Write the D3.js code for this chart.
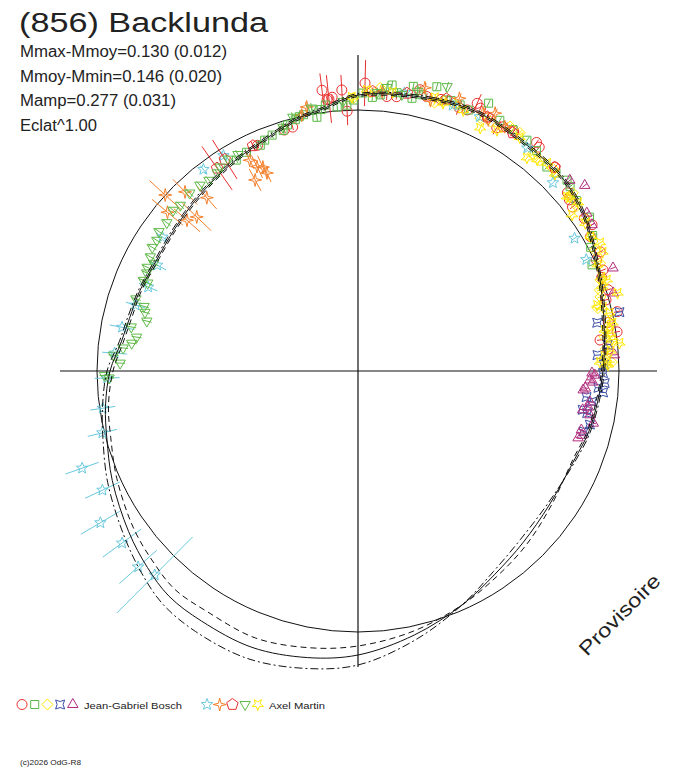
<!DOCTYPE html>
<html>
<head>
<meta charset="utf-8">
<script src="https://cdn.jsdelivr.net/npm/d3@7"></script>
<style>
body { margin: 0; background: #fff; }
text { font-family: "Liberation Sans", Arial, sans-serif; fill: #222; }
</style>
</head>
<body>
<svg id="chart" width="688" height="768"></svg>
<script>
// Fitted light curve: phase (deg, clockwise from top) and relative magnitude
const fitPhase = [0, 15, 25, 37, 47, 55, 66, 77, 90, 104, 112, 125, 136, 146, 156, 168, 180, 190, 201, 212,
    220, 227, 235, 246, 255, 262, 270, 277, 283, 290, 298, 308, 316, 324, 331, 337, 343, 347, 352];
const fitMid = [0.060, 0.084, 0.096, 0.084, 0.080, 0.056, 0.004, -0.036, -0.064, -0.088, -0.108, -0.110, -0.092,
    -0.064, -0.020, 0.036, 0.092, 0.120, 0.140, 0.136, 0.132, 0.108, 0.076, 0.032, -0.004, -0.024, -0.052,
    -0.090, -0.106, -0.114, -0.124, -0.116, -0.102, -0.084, -0.066, -0.050, -0.024, -0.004, 0.012];
const fitLow = [0.054, 0.078, 0.090, 0.078, 0.074, 0.050, -0.002, -0.042, -0.070, -0.094, -0.114, -0.102, -0.076,
    -0.052, -0.020, 0.020, 0.056, 0.080, 0.100, 0.092, 0.096, 0.076, 0.052, 0.012, -0.020, -0.036, -0.064,
    -0.098, -0.114, -0.120, -0.130, -0.122, -0.108, -0.090, -0.072, -0.056, -0.030, -0.010, 0.006];
const fitHigh = [0.066, 0.090, 0.102, 0.090, 0.086, 0.062, 0.010, -0.030, -0.058, -0.082, -0.102, -0.118, -0.108,
    -0.076, -0.020, 0.056, 0.132, 0.164, 0.188, 0.184, 0.172, 0.140, 0.100, 0.052, 0.012, -0.012, -0.040,
    -0.082, -0.098, -0.108, -0.118, -0.110, -0.096, -0.078, -0.060, -0.044, -0.018, 0.002, 0.018];

// Observations: [phase deg, relative mag, error]
const bosch1 = [[336,-0.056,0.012],[343,-0.036,0.014],[345,-0.034,0.012],[352.7,0.088,0.068],[353.5,0.048,0.014],
    [353.9,0.050,0.096],[354.6,0.056,0.012],[356.7,0.082,0.060],[357.6,-0.004,0.056],[1.4,0.108,0.092],[6,0.060,0.014],
    [8,0.064,0.012],[12.4,0.108,0.014],[14,0.088,0.012],[17,0.092,0.012],[21,0.084,0.030],[22.7,0.088,0.014],
    [24,0.128,0.040],[25,0.116,0.014],[29.7,0.076,0.030],[30.7,0.092,0.012],[33,0.100,0.014],[38,0.116,0.014],
    [39,0.108,0.012],[44,0.090,0.012],[49.6,0.056,0.014],[51,0.044,0.012],[52.6,0.036,0.012],[56,0.048,0.012],
    [58,0.060,0.014],[60,0.030,0.012],[63.8,0.036,0.012],[65,0.008,0.012],[67.6,0.016,0.012],[69,0.000,0.012],
    [72,0.008,0.014],[74,-0.012,0.012],[77.1,0.020,0.014],[79,-0.024,0.012],[81.4,0.004,0.012],[82.7,-0.068,0.012],
    [85,-0.040,0.012]];
const bosch2 = [[330,-0.070,0.014],[333,-0.062,0.014],[336.6,-0.060,0.014],[338,-0.048,0.016],[340,-0.040,0.014],
    [342.7,-0.036,0.014],[344,-0.020,0.014],[346,-0.008,0.016],[347,0.000,0.016],[348,0.004,0.014],[350,0.016,0.014],
    [350.8,-0.016,0.016],[352,0.012,0.014],[353,0.028,0.014],[355.5,0.016,0.014],[357.6,0.020,0.014],[359,0.040,0.014],
    [1,0.068,0.016],[3,0.052,0.014],[4.6,0.064,0.014],[6.8,0.108,0.016],[8,0.080,0.016],[11,0.116,0.014],
    [11.2,0.068,0.014],[13,0.090,0.014],[15.5,0.136,0.016],[18,0.096,0.014],[19,0.100,0.014],[21,0.096,0.014],
    [23,0.090,0.014],[26,0.148,0.016],[29.5,0.108,0.014],[32.7,0.104,0.014],[36.2,0.100,0.016],[39,0.090,0.014],
    [42.8,0.068,0.014],[45,0.076,0.016],[47.6,0.088,0.016],[49,0.080,0.014],[52,0.064,0.014],[56.4,0.068,0.016],
    [60,0.040,0.014],[62,0.010,0.014],[65.6,-0.016,0.014]];
const bosch3 = [[359,0.048,0.012],[2.5,0.072,0.012],[4.5,0.092,0.012],[15.9,0.072,0.012],[17.6,0.088,0.012],
    [20,0.090,0.012],[25.8,0.080,0.012],[28,0.086,0.012],[31.9,0.108,0.012],[34.2,0.108,0.012],[38.8,0.072,0.012],
    [40.8,0.068,0.012],[44,0.080,0.012],[50.3,0.072,0.012],[50.6,0.052,0.012],[53,0.052,0.012],[56,0.050,0.012],
    [60,0.030,0.012],[63,0.020,0.012],[66,0.016,0.012],[69.4,-0.008,0.012],[71.5,-0.024,0.012],[73,-0.030,0.012],
    [75.3,-0.052,0.012],[78.6,-0.016,0.012],[80,-0.030,0.012],[82.1,-0.048,0.012],[83.4,-0.036,0.012],
    [85,-0.050,0.012],[87.4,-0.064,0.012],[88,-0.028,0.012]];
const bosch4 = [[77.3,0.028,0.012],[78.6,-0.068,0.012],[84,-0.040,0.012],[86.2,-0.084,0.012],[88.5,-0.060,0.012],
    [90.5,-0.064,0.012],[92.8,-0.056,0.012],[94,-0.080,0.012],[95,-0.060,0.012],[96.5,-0.124,0.012],[97.5,-0.100,0.012],
    [99.8,-0.132,0.012],[100.4,-0.112,0.012],[103,-0.092,0.012],[105,-0.110,0.012]];
const bosch5 = [[48,0.096,0.012],[50.7,0.128,0.012],[55.4,0.068,0.012],[58,0.060,0.012],[68,0.056,0.012],
    [73,0.024,0.012],[86.4,-0.016,0.012],[90.5,-0.108,0.012],[91,-0.096,0.012],[92.2,-0.116,0.012],[92.7,-0.104,0.012],
    [94.3,-0.132,0.012],[94.8,-0.140,0.012],[97.6,-0.108,0.012],[98.9,-0.112,0.012],[99.8,-0.132,0.012],
    [100.7,-0.100,0.012],[102.5,-0.080,0.012],[104.8,-0.120,0.012],[106,-0.112,0.012],[106.9,-0.124,0.012]];
const martin1 = [[9.5,0.084,0.014],[19.6,0.084,0.014],[25.6,0.084,0.014],[37.2,0.076,0.014],[46,0.040,0.014],
    [58.5,-0.028,0.014],[64,-0.028,0.014],[328,-0.028,0.020],[322.5,-0.028,0.020],[304.4,-0.096,0.030],
    [297.8,-0.136,0.040],[291.8,-0.140,0.040],[286.5,-0.116,0.040],[280.5,-0.084,0.050],[274.2,-0.068,0.050],
    [268.4,-0.040,0.050],[261.7,-0.012,0.050],[256.4,0.008,0.060],[250.6,0.126,0.070],[245,0.084,0.076],
    [239.5,0.152,0.090],[233.9,0.124,0.095],[228.3,0.134,0.100],[224.9,0.108,0.215]];
const martin2 = [[312.4,0.000,0.085],[309.8,-0.052,0.080],[316,-0.048,0.070],[313.7,-0.152,0.080],[318.9,-0.124,0.060],
    [311.4,-0.132,0.070],[333.7,-0.132,0.050],[335,-0.144,0.050],[331.7,-0.176,0.050],[332.8,-0.096,0.040],
    [335.3,-0.172,0.040],[347.6,0.004,0.020],[349,0.032,0.020],[5,0.080,0.020],[13.3,0.120,0.020],[15,0.076,0.020],
    [20.4,0.120,0.020],[25.8,0.104,0.020],[27.4,0.088,0.020],[28,0.124,0.020],[31,0.096,0.020]];
const martin3 = [[325.2,-0.056,0.106],[327.8,-0.044,0.092],[335,-0.050,0.020],[3,0.076,0.016],[10,0.084,0.016],
    [18,0.100,0.016],[27,0.096,0.016],[33,0.092,0.016],[44,0.088,0.016]];
const martin4 = [[319.6,-0.068,0.02],[322,-0.076,0.02],[324.6,-0.072,0.02],[316.6,-0.064,0.02],[313,-0.072,0.02],
    [311,-0.064,0.02],[307.8,-0.076,0.02],[305,-0.072,0.02],[303,-0.084,0.02],[301,-0.084,0.02],[298.8,-0.096,0.02],
    [297.8,-0.120,0.02],[296.2,-0.104,0.02],[294.9,-0.112,0.02],[292.9,-0.112,0.02],[292.7,-0.132,0.02],[288,-0.110,0.02],
    [286.8,-0.150,0.02],[285.4,-0.160,0.02],[283.3,-0.176,0.02],[281,-0.120,0.02],[278.7,-0.148,0.02],[277,-0.132,0.02],
    [275.6,-0.100,0.02],[273.7,-0.064,0.02],[271.9,-0.092,0.02],[269,-0.030,0.02],[268.4,-0.048,0.02],[326,-0.060,0.02],
    [328.5,-0.050,0.02],[331,-0.054,0.02],[342.9,-0.024,0.02],[345.6,0.004,0.02],[350,0.024,0.02],[356.8,0.036,0.02],
    [3.9,0.072,0.02],[5.8,0.096,0.02],[9,0.076,0.02],[12,0.100,0.02],[17.4,0.148,0.02]];
const martin5 = [[358.7,0.052,0.014],[1.8,0.080,0.014],[7.1,0.080,0.014],[15.7,0.092,0.014],[17.6,0.080,0.014],
    [22,0.080,0.014],[26.7,0.044,0.014],[30,0.068,0.014],[34.7,0.092,0.014],[38.4,0.044,0.014],[40.3,0.064,0.014],
    [42.3,0.080,0.014],[45,0.070,0.014],[50.2,0.044,0.014],[50.6,0.052,0.014],[52.6,0.064,0.014],[53.9,0.016,0.014],
    [57,0.040,0.014],[60,0.030,0.014],[62.1,0.052,0.014],[64.1,0.044,0.014],[66.1,0.004,0.014],[68.9,0.000,0.014],
    [69.9,0.016,0.014],[71,-0.010,0.014],[73.3,0.040,0.014],[74.6,-0.052,0.014],[75.4,-0.032,0.014],[77,-0.012,0.014],
    [79.3,-0.008,0.014],[80.6,-0.044,0.014],[81.5,-0.024,0.014],[83,-0.020,0.014],[83.9,0.008,0.014],
    [85.5,-0.030,0.014],[86.5,-0.056,0.014],[87.9,-0.076,0.014],[88.2,-0.048,0.014],[88.6,-0.044,0.014]];

const observers = ["Jean-Gabriel Bosch", "Axel Martin"];
const sessionData = [bosch1, bosch2, bosch3, bosch4, bosch5, martin1, martin2, martin3, martin4, martin5];
const sessionObserver = [0, 0, 0, 0, 0, 1, 1, 1, 1, 1];
const sessionShape = ["circle", "square", "diamond", "concave", "triangle", "star", "star4", "pentagon", "triangleDown", "starDown"];
const sessionColor = ["#e8302e", "#5ab946", "#ffe800", "#3b4ea5", "#b12b7d", "#68c8dc", "#f47f2a", "#e8302e", "#5fb948", "#ffe800"];

const statLines = ["Mmax-Mmoy=0.130 (0.012)", "Mmoy-Mmin=0.146 (0.020)", "Mamp=0.277 (0.031)", "Eclat^1.00"];

const svg = d3.select("#chart");
svg.append("rect").attr("width", 688).attr("height", 768).attr("fill", "#fff");

const cx = 358, cy = 371;
const rScale = d3.scaleLinear().domain([0, 0.1]).range([261, 286]);
const aScale = d3.scaleLinear().domain([0, 360]).range([0, 2 * Math.PI]);

function polar(deg, dm) {
    const a = aScale(deg), r = rScale(dm);
    return [cx + r * Math.sin(a), cy - r * Math.cos(a)];
}

// symbol paths
function polyPath(n, rad, rot) {
    const pts = d3.range(n).map(i => {
        const t = rot + i * 2 * Math.PI / n;
        return [(rad * Math.cos(t)).toFixed(2), (rad * Math.sin(t)).toFixed(2)];
    });
    return "M" + pts.join("L") + "Z";
}
function starPath(n, rOut, rIn, rot) {
    const pts = d3.range(2 * n).map(i => {
        const t = rot + i * Math.PI / n;
        const rr = i % 2 ? rIn : rOut;
        return [(rr * Math.cos(t)).toFixed(2), (rr * Math.sin(t)).toFixed(2)];
    });
    return "M" + pts.join("L") + "Z";
}
const shapes = {
    circle: "M5,0A5,5 0 1,1 -5,0A5,5 0 1,1 5,0Z",
    square: "M-4,-4H4V4H-4Z",
    diamond: polyPath(4, 5.5, -Math.PI / 2),
    concave: "M-4.5,-4.5Q0,-1.5 4.5,-4.5Q1.5,0 4.5,4.5Q0,1.5 -4.5,4.5Q-1.5,0 -4.5,-4.5Z",
    triangle: polyPath(3, 6, -Math.PI / 2),
    star: starPath(5, 6, 2.6, -Math.PI / 2),
    star4: starPath(4, 6.5, 1.8, -Math.PI / 2),
    pentagon: polyPath(5, 6, -Math.PI / 2),
    triangleDown: polyPath(3, 6, Math.PI / 2),
    starDown: starPath(5, 6, 2.6, Math.PI / 2)
};

// axes
svg.append("line").attr("x1", 60).attr("x2", 657).attr("y1", cy).attr("y2", cy)
    .attr("stroke", "#111").attr("stroke-width", 1.2);
svg.append("line").attr("x1", cx).attr("x2", cx).attr("y1", 55).attr("y2", 667)
    .attr("stroke", "#111").attr("stroke-width", 1.2);

// mean magnitude circle
svg.append("circle").attr("cx", cx).attr("cy", cy).attr("r", rScale(0))
    .attr("fill", "none").attr("stroke", "#111").attr("stroke-width", 1);

// observations
sessionData.forEach((data, s) => {
    const g = svg.append("g").attr("stroke", sessionColor[s]).attr("fill", "none").attr("stroke-width", 1);
    g.selectAll(".err")
        .data(data)
        .enter()
        .append("line")
        .attr("x1", d => polar(d[0], d[1] - d[2])[0])
        .attr("y1", d => polar(d[0], d[1] - d[2])[1])
        .attr("x2", d => polar(d[0], d[1] + d[2])[0])
        .attr("y2", d => polar(d[0], d[1] + d[2])[1]);
    g.selectAll(".pt")
        .data(data)
        .enter()
        .append("path")
        .attr("d", shapes[sessionShape[s]])
        .attr("transform", d => `translate(${polar(d[0], d[1]).map(v => v.toFixed(2))})`);
});

// fitted curves
const radial = d3.lineRadial()
    .angle(d => aScale(d[0]))
    .radius(d => rScale(d[1]))
    .curve(d3.curveCatmullRomClosed);
const curves = [[fitLow, "6,4"], [fitHigh, "8,3,2,3"], [fitMid, null]];
curves.forEach(([vals, dash]) => {
    svg.append("path")
        .attr("transform", `translate(${cx},${cy})`)
        .attr("d", radial(fitPhase.map((p, i) => [p, vals[i]])))
        .attr("fill", "none")
        .attr("stroke", "#111")
        .attr("stroke-width", 1)
        .attr("stroke-dasharray", dash);
});

// title and statistics
svg.append("text").attr("x", 19).attr("y", 32).attr("font-size", 27)
    .attr("textLength", 249).attr("lengthAdjust", "spacingAndGlyphs")
    .text("(856) Backlunda");
const statWidths = [207, 202, 156, 77];
statLines.forEach((t, i) => {
    svg.append("text").attr("x", 20).attr("y", 57 + i * 24.7).attr("font-size", 16)
        .attr("textLength", statWidths[i]).attr("lengthAdjust", "spacingAndGlyphs")
        .text(t);
});

// watermark
svg.append("text").attr("transform", "translate(587,657) rotate(-45)")
    .attr("font-size", 20).attr("textLength", 106).attr("lengthAdjust", "spacingAndGlyphs")
    .text("Provisoire");

// legend
const legendStart = [22, 207];
const legendTextX = [84, 269];
const legendTextW = [98, 56];
observers.forEach((name, o) => {
    const idx = d3.range(sessionData.length).filter(s => sessionObserver[s] === o);
    idx.forEach((s, k) => {
        svg.append("path")
            .attr("d", shapes[sessionShape[s]])
            .attr("transform", `translate(${legendStart[o] + k * 12.7},704.5)`)
            .attr("fill", "none")
            .attr("stroke", sessionColor[s]);
    });
    svg.append("text").attr("x", legendTextX[o]).attr("y", 709).attr("font-size", 9.5)
        .attr("textLength", legendTextW[o]).attr("lengthAdjust", "spacingAndGlyphs")
        .text(name);
});

svg.append("text").attr("x", 20).attr("y", 765).attr("font-size", 7.5)
    .attr("textLength", 61).attr("lengthAdjust", "spacingAndGlyphs")
    .text("(c)2026 OdG-R8");
</script>
</body>
</html>
